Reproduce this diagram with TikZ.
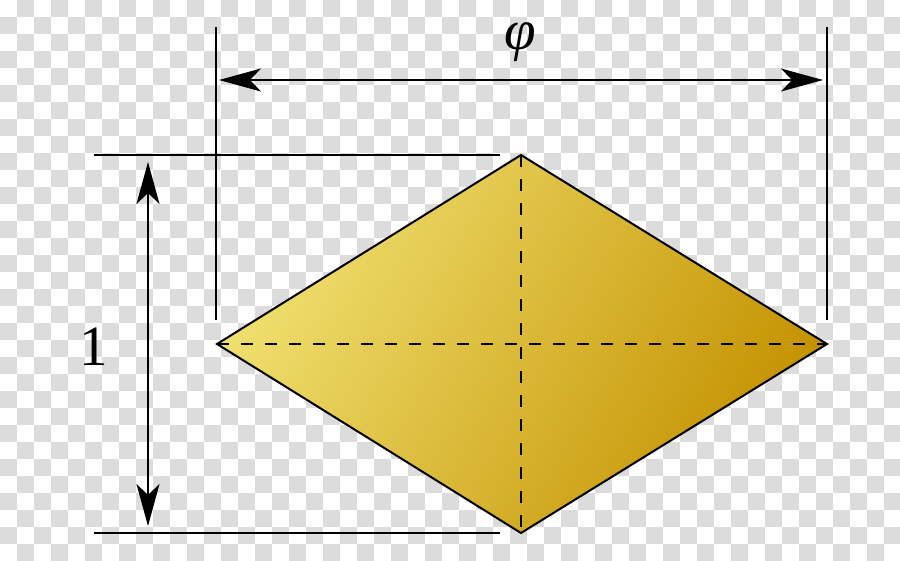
\documentclass[tikz,border=0pt]{standalone}
\usepackage{fontspec}
\newfontfamily\timesfont{Liberation Serif}
\usetikzlibrary{arrows.meta}
\definecolor{chk}{RGB}{220,220,220}
\definecolor{goldL}{RGB}{240,224,112}
\definecolor{goldD}{RGB}{196,146,0}
\begin{document}
\begin{tikzpicture}[x=1pt,y=-1pt,
  dimline/.style={line width=1.9pt},
  dimarrow/.style={line width=1.7pt,
     {Stealth[length=42pt,width=23pt,inset=11pt]}-{Stealth[length=42pt,width=23pt,inset=11pt]}},
  edge/.style={line width=2pt, line join=miter},
  axisline/.style={line width=1.9pt, dash pattern=on 12pt off 12pt},
  bigtext/.style={inner sep=0pt, font=\timesfont\fontsize{57}{60}\selectfont}]
\useasboundingbox (0,0) rectangle (900,560);
% transparency checkerboard
\fill[white] (0,0) rectangle (900,560);
\foreach \j in {0,...,32}{
  \pgfmathtruncatemacro\off{1-mod(\j,2)}
  \foreach \i in {0,...,26}{
    \fill[chk] ({(2*\i+\off)*17},{\j*17}) rectangle +(17,17);
  }
}
% rhombus vertices
\coordinate (L) at (217,344);
\coordinate (T) at (521,155);
\coordinate (R) at (827,344);
\coordinate (B) at (521,533);
\shade[top color=goldL, bottom color=goldD, shading angle=60] (L) -- (T) -- (R) -- (B) -- cycle;
\draw[axisline] (L) -- (R);
\draw[axisline] (T) -- (B);
\draw[edge] (L) -- (T) -- (R) -- (B) -- cycle;
% extension lines
\coordinate (e1a) at (216,27);  \coordinate (e1b) at (216,320);
\coordinate (e2a) at (827,27);  \coordinate (e2b) at (827,320);
\coordinate (e3a) at (94,155);  \coordinate (e3b) at (500,155);
\coordinate (e4a) at (94,533);  \coordinate (e4b) at (500,533);
\draw[dimline] (e1a) -- (e1b);
\draw[dimline] (e2a) -- (e2b);
\draw[dimline] (e3a) -- (e3b);
\draw[dimline] (e4a) -- (e4b);
% dimension arrows
\coordinate (h1) at (219,80); \coordinate (h2) at (823,80);
\coordinate (v1) at (148,162); \coordinate (v2) at (148,526);
\draw[dimarrow] (h1) -- (h2);
\draw[dimarrow] (v1) -- (v2);
% labels
\node[bigtext] (phi) at (520,42) {\itshape φ};
\node[bigtext] (one) at (94,347) {1};
\end{tikzpicture}
\end{document}
